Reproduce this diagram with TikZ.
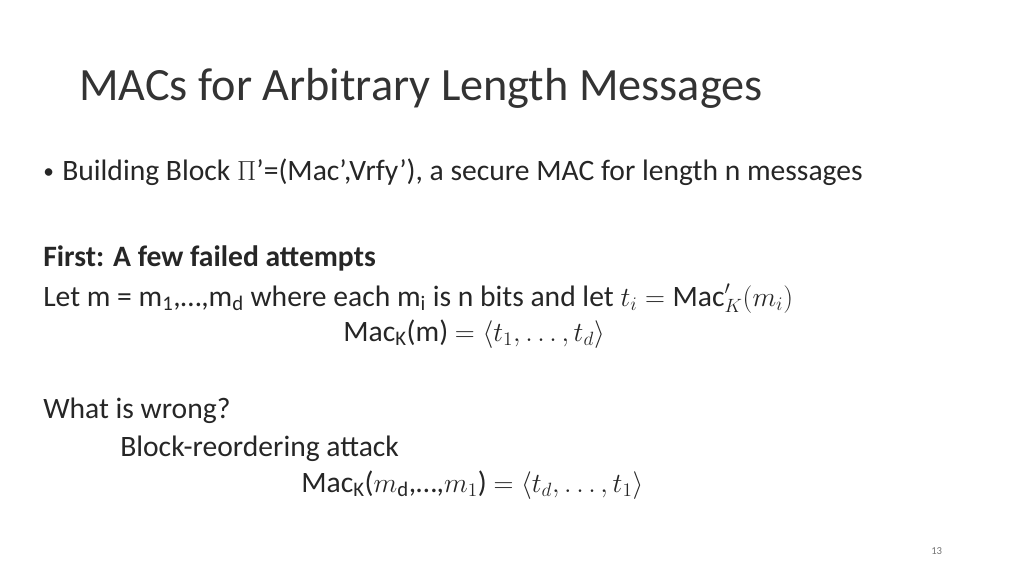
\documentclass[tikz,border=0pt]{standalone}
\usepackage{fontspec}
\setmainfont{Carlito}
\tikzset{
  px/.style={x=0.75pt, y=-0.75pt},
  txt/.style={anchor=base west, inner sep=0pt, font=\fontsize{22.2}{26}\selectfont, text=black!85},
  titletxt/.style={anchor=base west, inner sep=0pt, font=\fontsize{34.7}{40}\selectfont, text=black!80},
}
\begin{document}
\begin{tikzpicture}[px]
\useasboundingbox (0,0) rectangle (1024,576);

% title
\node[titletxt] (title) at (79,100) {MACs for Arbitrary Length Messages};

% bullet
\node[txt, font=\fontsize{16}{20}\selectfont] (dot) at (43,178) {\textbullet};
\node[txt] (block) at (62,180) {Building Block $\Pi$’=(Mac’,Vrfy’), a secure MAC for length n messages};

% attempts
\node[txt, font=\fontsize{22.2}{26}\selectfont\bfseries] (first) at (43,266) {First: A few failed attempts};
\node[txt] (letm) at (43,306) {Let m = m\textsubscript{1},…,m\textsubscript{d} where each m\textsubscript{i} is n bits and let $t_i=\mathrm{Mac}'_K(m_i)$};
\node[txt] (macm) at (343,341) {Mac\textsubscript{K}(m) $=\langle t_1,\ldots,t_d\rangle$};

% wrong
\node[txt] (wrong) at (43,418) {What is wrong?};
\node[txt] (reorder) at (120,456) {Block-reordering attack};
\node[txt] (macd) at (301,492) {Mac\textsubscript{K}($m$\textsubscript{d},…,$m_1$) $=\langle t_d,\ldots,t_1\rangle$};

% page number
\node[txt, font=\fontsize{8}{9}\selectfont, text=black!55] (page) at (931,554) {13};
\end{tikzpicture}
\end{document}
